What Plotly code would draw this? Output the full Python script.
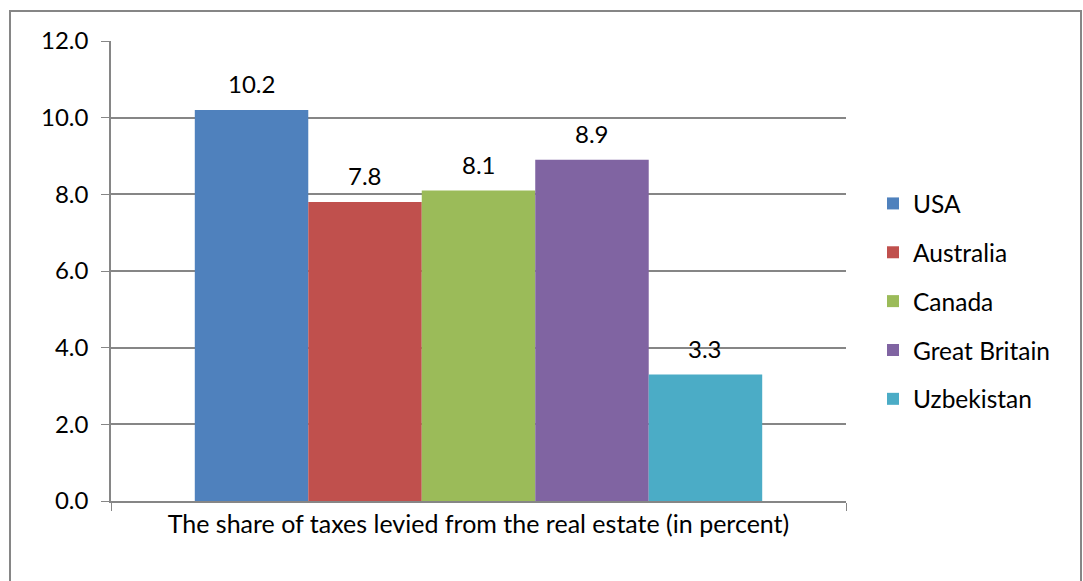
import plotly.graph_objects as go

category = ["The share of taxes levied from the real estate (in percent)"]
countries = ["USA", "Australia", "Canada", "Great Britain", "Uzbekistan"]
values = [10.2, 7.8, 8.1, 8.9, 3.3]
colors = ["#4F81BD", "#C0504D", "#9BBB59", "#8064A2", "#4BACC6"]
y_ticks = [0, 2, 4, 6, 8, 10, 12]

FONT = "Lato"
FS = 24
L, T, PW, PH = 111, 41, 735, 460
W, H = 1083, 581


def px(x):
    return (x - L) / PW


def py(y):
    return (T + PH - y) / PH


BARGAP = 0.228
bw = (1 - BARGAP) / len(countries)

fig = go.Figure()
for i, (name, v, c) in enumerate(zip(countries, values, colors)):
    fig.add_trace(go.Bar(
        x=category, y=[v], name=name, marker=dict(color=c, line=dict(width=0)),
        legendgroup=name,
    ))
    fig.add_annotation(
        x=-0.5 + BARGAP / 2 + bw * (i + 0.5), xref="x", y=v, yref="y",
        text=f"{v:.1f}", showarrow=False, yanchor="bottom", yshift=10,
        font=dict(size=FS, color="#000000", family=FONT),
    )

fig.update_layout(
    width=W, height=H,
    margin=dict(l=L, r=W - L - PW, t=T, b=H - T - PH),
    paper_bgcolor="white", plot_bgcolor="white",
    barmode="group", bargap=BARGAP, bargroupgap=0,
    font=dict(family=FONT, size=FS, color="#000000"),
    showlegend=True,
    legend=dict(x=px(873), y=py(181), xanchor="left", yanchor="top",
                font=dict(size=24.5, family=FONT), tracegroupgap=14,
                itemwidth=30, bgcolor="rgba(0,0,0,0)"),
    xaxis=dict(type="category", range=[-0.5, 0.5], showgrid=False, showline=True,
               linecolor="#868686", linewidth=1.5,
               ticks="outside", tickson="boundaries", ticklen=8, tickcolor="#868686",
               tickfont=dict(size=25, family=FONT)),
    yaxis=dict(range=[0, 12], tickvals=y_ticks, ticktext=[f"{t:.1f}" for t in y_ticks],
               showgrid=True, gridcolor="#868686", gridwidth=1.5,
               showline=True, linecolor="#868686", linewidth=1.5,
               ticks="outside", ticklen=8, tickcolor="#868686", zeroline=False,
               ticklabelstandoff=8,
               tickfont=dict(size=FS, family=FONT)),
    shapes=[dict(type="rect", xref="paper", yref="paper",
                 x0=px(10), x1=px(1081), y0=py(600), y1=py(11),
                 line=dict(color="#868686", width=2), fillcolor="rgba(0,0,0,0)", layer="below")],
)
fig.write_html("out.html", config={"displayModeBar": False},
               post_script="document.body.style.margin='0';document.body.style.overflow='hidden';")
